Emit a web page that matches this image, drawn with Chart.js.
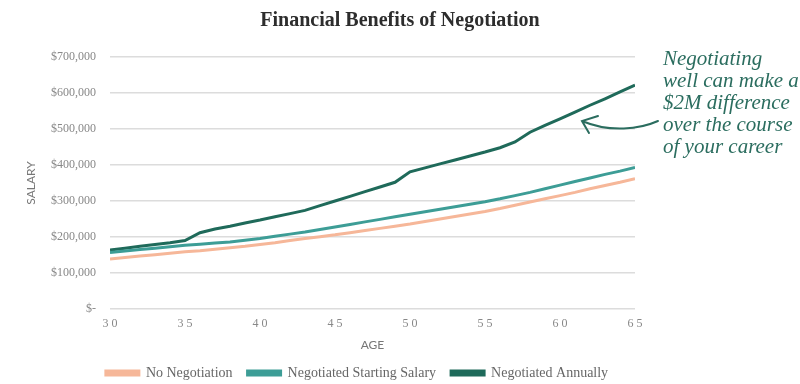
<!DOCTYPE html>
<html lang="en">
<head>
    <meta charset="UTF-8">
    <title>Financial Benefits of Negotiation</title>
    <style>
        body{
            margin: 0;
            background: #fff;
        }
        .container{
            position: relative;
            width: 800px;
            height: 384px;
        }
        .note{
            position: absolute;
            left: 663px;
            top: 47px;
            font-family: "Liberation Serif", serif;
            font-style: italic;
            font-size: 21px;
            line-height: 22px;
            color: #2b6d5f;
        }
    </style>
    <script src="https://cdn.jsdelivr.net/npm/chart.js"></script>
</head>
<body>
<div class="container">
    <canvas id="myChart" width="800" height="384"></canvas>
    <div class="note">Negotiating<br>well can make a<br>$2M difference<br>over the course<br>of your career</div>
</div>
<script>
    // ages 30..65, salaries (thousands)
    var ages = [30,31,32,33,34,35,36,37,38,39,40,41,42,43,44,45,46,47,
                48,49,50,51,52,53,54,55,56,57,58,59,60,61,62,63,64,65];
    var noNegotiation = [139,143,147,151,155,159,162,166,170,174,179,184,190,196,201,206,212,218,
                         224,230,236,243,250,257,264,271,279,288,297,306,315,324,334,343,352,362];
    var negotiatedStart = [157,161,165,169,173,177,180,183,186,191,196,202,208,214,221,228,235,242,
                           249,256,263,270,277,284,291,298,306,315,324,334,344,354,364,374,383,393];
    var negotiatedAnnual = [164,169,174,179,184,190,212,222,230,239,247,256,265,274,287,300,313,326,
                            339,352,381,392,403,414,425,436,448,464,491,510,528,547,566,584,603,622];
    var yTicks = [0,100000,200000,300000,400000,500000,600000,700000];
    var xTicks = [30,35,40,45,50,55,60,65];

    function points(values){
        var arr = [];
        for (var i = 0; i < ages.length; i++) {
            arr.push({x: ages[i], y: values[i] * 1000});
        }
        return arr;
    }

    var orange = '#f6b799';
    var teal = '#3d9d96';
    var dark = '#1f6a5a';

    // hand drawn arrow pointing at the top line
    const arrowPlugin = {
        id: 'arrow',
        afterLayout(chart) {
            // legend sits a bit left of the page centre
            chart.legend.left -= 43;
            chart.legend.right -= 43;
        },
        afterDraw(chart) {
            const ctx = chart.ctx;
            ctx.save();
            ctx.strokeStyle = '#2b6d5f';
            ctx.lineWidth = 2;
            ctx.lineCap = 'round';
            ctx.beginPath();
            ctx.moveTo(658, 121);
            ctx.bezierCurveTo(640, 129, 610, 133, 582, 121);
            ctx.moveTo(598, 116);
            ctx.lineTo(582, 121);
            ctx.lineTo(589, 133);
            ctx.stroke();
            ctx.restore();
        }
    };

    const data = {
        datasets: [{
            label: 'No Negotiation',
            borderColor: orange,
            backgroundColor: orange,
            data: points(noNegotiation)
        }, {
            label: 'Negotiated Starting Salary',
            borderColor: teal,
            backgroundColor: teal,
            data: points(negotiatedStart)
        }, {
            label: 'Negotiated Annually',
            borderColor: dark,
            backgroundColor: dark,
            data: points(negotiatedAnnual)
        }]
    };

    const config = {
        type: 'line',
        data: data,
        plugins: [arrowPlugin],
        options: {
            responsive: false,
            animation: false,
            layout: {padding: {bottom: -6}},
            elements: {
                line: {borderWidth: 3, tension: 0},
                point: {radius: 0}
            },
            plugins: {
                title: {
                    display: true,
                    text: 'Financial Benefits of Negotiation',
                    color: '#2d2d2d',
                    font: {family: 'Liberation Serif', size: 20, weight: 'bold'},
                    padding: {top: 9, bottom: 24}
                },
                legend: {
                    position: 'bottom',
                    labels: {
                        boxWidth: 33,
                        boxHeight: 4,
                        color: '#666',
                        font: {family: 'Liberation Serif', size: 14},
                        padding: 15
                    }
                },
                tooltip: {enabled: false}
            },
            scales: {
                x: {
                    type: 'linear',
                    min: 30,
                    max: 65,
                    afterBuildTicks: function(s) {
                        s.ticks = xTicks.map(v => ({value: v}));
                    },
                    grid: {display: false, drawTicks: false},
                    border: {display: false},
                    ticks: {
                        color: '#888',
                        font: {family: 'Liberation Serif', size: 12, lineHeight: 1},
                        padding: 9,
                        maxRotation: 0,
                        callback: v => String(v).split('').join(' ')
                    },
                    title: {
                        display: true,
                        text: 'AGE',
                        color: '#777',
                        font: {family: 'Lato', size: 12, lineHeight: 1},
                        padding: {top: 0, bottom: 0}
                    }
                },
                y: {
                    min: 0,
                    max: 700000,
                    afterBuildTicks: function(s) {
                        s.ticks = yTicks.map(v => ({value: v}));
                    },
                    afterFit: function(s) { s.width = 110; },
                    grid: {color: '#dcdcdc', lineWidth: 1.5, drawTicks: false},
                    border: {display: false},
                    ticks: {
                        color: '#888',
                        font: {family: 'Liberation Serif', size: 12},
                        padding: 14,
                        callback: v => v === 0 ? '$-' : '$' + v.toLocaleString('en-US')
                    },
                    title: {
                        display: true,
                        text: 'SALARY',
                        color: '#777',
                        font: {family: 'Lato', size: 12},
                        padding: {top: 24, bottom: 0}
                    }
                },
                y2: {
                    position: 'right',
                    display: true,
                    grid: {display: false},
                    border: {display: false},
                    ticks: {display: false},
                    afterFit: function(s) { s.width = 165; }
                }
            }
        }
    };

    const myChart = new Chart(
        document.getElementById('myChart'),
        config
    );
</script>
</body>
</html>
